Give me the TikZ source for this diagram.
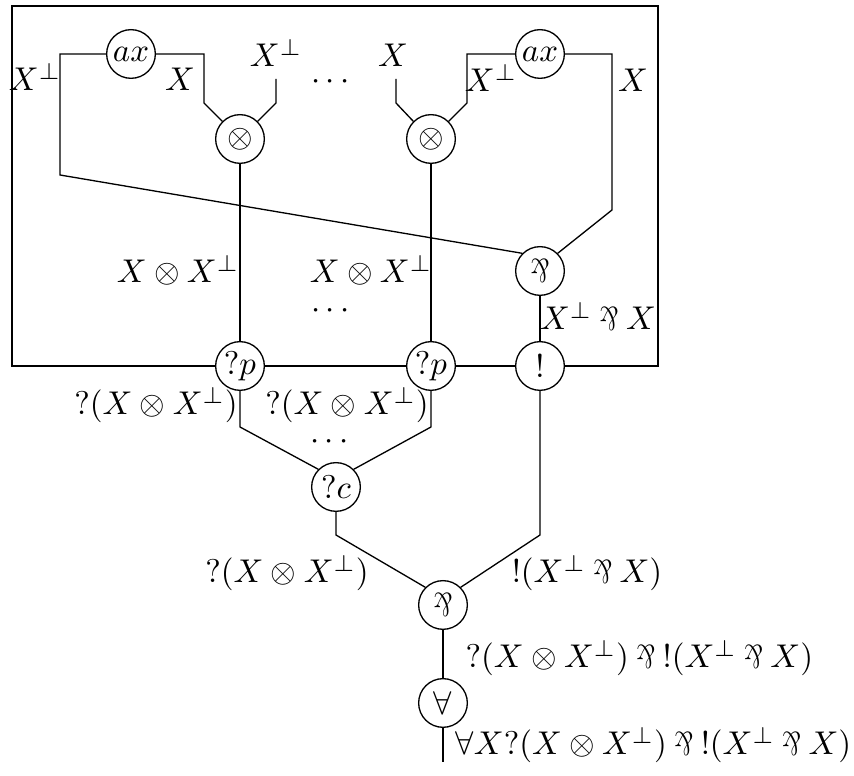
\documentclass[tikz,border=0pt]{standalone}
\usepackage{amsmath, amssymb}
\usepackage{graphicx}
\usepackage{tikz}
\newcommand{\lpar}{\mathbin{\rotatebox[origin=c]{180}{\scalebox{0.75}[1]{$\&$}}}}
\tikzset{
  cell/.style={circle, draw, fill=white, inner sep=0.5pt, minimum size=14.8pt},
  lbl/.style={inner sep=0pt, anchor=base},
}
\begin{document}
\begin{tikzpicture}[x=0.304pt, y=-0.304pt]
\useasboundingbox (0,0) rectangle (854,776);
% ===== the box =====
\draw (12,6) rectangle (658,366);
% ===== links =====
\node[cell] (ax1) at (131,54) {$ax$};
\node[cell] (ax2) at (540,54) {$ax$};
\node[cell] (ten1) at (240,139) {$\otimes$};
\node[cell] (ten2) at (431,139) {$\otimes$};
\node[cell] (par1) at (540,271) {$\lpar$};
\node[cell] (wn1) at (240,366) {$?p$};
\node[cell] (wn2) at (431,366) {$?p$};
\node[cell] (ofc) at (540,366) {$!$};
\node[cell] (ctr) at (336,487) {$?c$};
\node[cell] (par2) at (443,605) {$\lpar$};
\node[cell] (all) at (443,703) {$\forall$};
\coordinate (in1) at (276,79);
\coordinate (in2) at (396,79);
\coordinate (out) at (443,762);
% ===== wires inside the box =====
\draw (ax1.west) -- (60,54) -- (60,175) -- (par1.north west);
\draw (ax1.east) -- (204,54) -- (204,103) -- (ten1.north west);
\draw (ten1.north east) -- (276,103) -- (in1);
\draw (ten2.north west) -- (396,103) -- (in2);
\draw (ten2.north east) -- (467,103) -- (467,54) -- (ax2.west);
\draw (ax2.east) -- (612,54) -- (612,210) -- (par1.north east);
\draw (ten1) -- (wn1);
\draw (ten2) -- (wn2);
\draw (par1) -- (ofc);
% ===== wires below the box =====
\draw (wn1) -- (240,427) -- (ctr.north west);
\draw (wn2) -- (431,427) -- (ctr.north east);
\draw (ctr) -- (336,535) -- (par2.north west);
\draw (ofc) -- (540,535) -- (par2.north east);
\draw (par2) -- (all);
\draw (all) -- (out);
% ===== formulas =====
\node[lbl] at (35,91) {$X^\perp$};
\node[lbl] at (180,91) {$X$};
\node[lbl] at (276,67) {$X^\perp$};
\node[lbl] at (333,90) {$\cdots$};
\node[lbl] at (393,67) {$X$};
\node[lbl] at (491,92) {$X^\perp$};
\node[lbl] at (633,92) {$X$};
\node[lbl] at (178,283) {$X \otimes X^\perp$};
\node[lbl] at (371,283) {$X \otimes X^\perp$};
\node[lbl] at (333,319) {$\cdots$};
\node[lbl] at (598,330) {$X^\perp \lpar X$};
\node[lbl] at (156,415) {$?(X \otimes X^\perp)$};
\node[lbl] at (347,415) {$?(X \otimes X^\perp)$};
\node[lbl] at (332,450) {$\cdots$};
\node[lbl] at (287,583) {$?(X \otimes X^\perp)$};
\node[lbl] at (587,583) {$!(X^\perp \lpar X)$};
\node[lbl, anchor=base west] at (465,668) {$?(X \otimes X^\perp) \lpar {!}(X^\perp \lpar X)$};
\node[lbl, anchor=base west] at (455,755) {$\forall X?(X \otimes X^\perp) \lpar {!}(X^\perp \lpar X)$};
\end{tikzpicture}
\end{document}
